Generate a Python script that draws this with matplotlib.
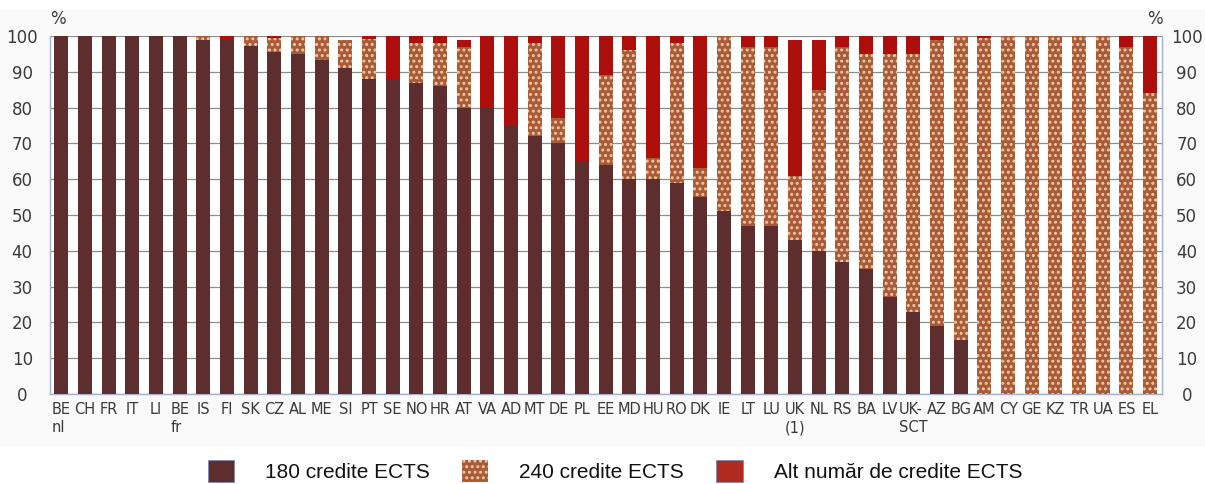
import matplotlib
matplotlib.use("Agg")
import matplotlib.pyplot as plt
from matplotlib.patches import Patch, Rectangle
import numpy as np

countries = ["BE\nnl", "CH", "FR", "IT", "LI", "BE\nfr", "IS", "FI", "SK", "CZ",
             "AL", "ME", "SI", "PT", "SE", "NO", "HR", "AT", "VA", "AD",
             "MT", "DE", "PL", "EE", "MD", "HU", "RO", "DK", "IE", "LT",
             "LU", "UK\n(1)", "NL", "RS", "BA", "LV", "UK-\nSCT", "AZ", "BG", "AM",
             "CY", "GE", "KZ", "TR", "UA", "ES", "EL"]

ects_180 = [100, 100, 100, 100, 100, 100, 99, 99, 97.3, 95.5,
            95, 93.3, 91, 88, 88, 87, 86, 80, 80, 75,
            72, 70, 65, 64, 60, 60, 59, 55, 51, 47,
            47, 43, 40, 37, 35, 27, 23, 19, 15, 0,
            0, 0, 0, 0, 0, 0, 0]

ects_240 = [0, 0, 0, 0, 0, 0, 1, 0, 2.7, 4,
            5, 6.7, 8, 11.2, 0, 11, 12, 17, 0, 0,
            26, 7, 0, 25, 36, 6, 39, 8, 49, 50,
            50, 18, 45, 60, 60, 68, 72, 80, 85, 99.5,
            100, 100, 100, 100, 100, 97, 84]

ects_other = [0, 0, 0, 0, 0, 0, 0, 1, 0, 0.5,
              0, 0, 0, 0.8, 12, 2, 2, 2, 20, 25,
              2, 23, 35, 11, 4, 34, 2, 37, 0, 3,
              3, 38, 14, 3, 5, 5, 5, 1, 0, 0.5,
              0, 0, 0, 0, 0, 3, 16]

legend_labels = ["180 credite ECTS", "240 credite ECTS", "Alt număr de credite ECTS"]

c180 = "#5e2e2e"
c240 = "#a95b38"
cother = "#ad100c"
speckle = "#f0c8a8"
tick_color = "#3a3a3a"

plt.rcParams["hatch.linewidth"] = 1.4
narrow = ["Liberation Sans Narrow", "DejaVu Sans"]

fig = plt.figure(figsize=(12.05, 4.84), dpi=100)
fig.patches.append(Rectangle((0, 0.0785), 1, 0.9005, transform=fig.transFigure,
                             facecolor="#fafafa", edgecolor="none", zorder=-10))

ax = fig.add_axes([50 / 1205, 1 - 394 / 484, (1161.7 - 50) / 1205, 358 / 484])
ax.set_facecolor("white")

x = np.arange(len(countries))
a = np.array(ects_180)
b = np.array(ects_240)
o = np.array(ects_other)
w = 0.59

ax.bar(x, a, width=w, color=c180, linewidth=0, zorder=3)
ax.bar(x, b, width=w, bottom=a, facecolor=c240, edgecolor=speckle, hatch="...",
       linewidth=0, zorder=3)
ax.bar(x, o, width=w, bottom=a + b, color=cother, linewidth=0, zorder=3)

ax.set_xlim(-0.48, len(countries) - 1 + 0.49)
ax.set_ylim(0, 100)
ax.set_yticks(np.arange(0, 101, 10))
ax.yaxis.grid(True, color="#8c8c8c", linewidth=0.9, zorder=0)
ax.set_axisbelow(True)

ax.spines["top"].set_visible(False)
for side in ["left", "right", "bottom"]:
    ax.spines[side].set_color("#aab0cc")
    ax.spines[side].set_linewidth(1.0)

ax.set_xticks(x)
ax.set_xticklabels(countries, fontsize=10.5, family=narrow, color=tick_color,
                   multialignment="left", linespacing=1.25)
ax.tick_params(axis="x", length=0, pad=6)

ax.tick_params(axis="y", length=0, pad=20, labelsize=12, labelcolor=tick_color)
for lab in ax.get_yticklabels():
    lab.set_family(narrow)
    lab.set_horizontalalignment("center")

ax2 = ax.twinx()
ax2.set_ylim(0, 100)
ax2.set_yticks(np.arange(0, 101, 10))
ax2.tick_params(axis="y", length=0, pad=18, labelsize=12, labelcolor=tick_color)
for lab in ax2.get_yticklabels():
    lab.set_family(narrow)
    lab.set_horizontalalignment("center")
for side in ["top", "left", "bottom"]:
    ax2.spines[side].set_visible(False)
ax2.spines["right"].set_color("#aab0cc")

fig.text(58 / 1205, 1 - 19 / 484, "%", fontsize=12, family=narrow, color=tick_color,
         ha="center", va="center")
fig.text(1155 / 1205, 1 - 19 / 484, "%", fontsize=12, family=narrow, color=tick_color,
         ha="center", va="center")

handles = [Patch(facecolor=c180, edgecolor="#8088b0", linewidth=0.6),
           Patch(facecolor=c240, edgecolor=speckle, hatch="...", linewidth=0),
           Patch(facecolor="#b02a20", edgecolor="#8088b0", linewidth=0.6)]
fig.legend(handles, legend_labels, loc="center", bbox_to_anchor=(615 / 1205, 1 - 471 / 484),
           ncol=3, frameon=False, prop={"family": "Liberation Sans", "size": 15},
           handlelength=1.25, handleheight=1.25, handletextpad=1.5, columnspacing=1.55,
           labelcolor="#111111")

fig.savefig("out.png", dpi=100)
